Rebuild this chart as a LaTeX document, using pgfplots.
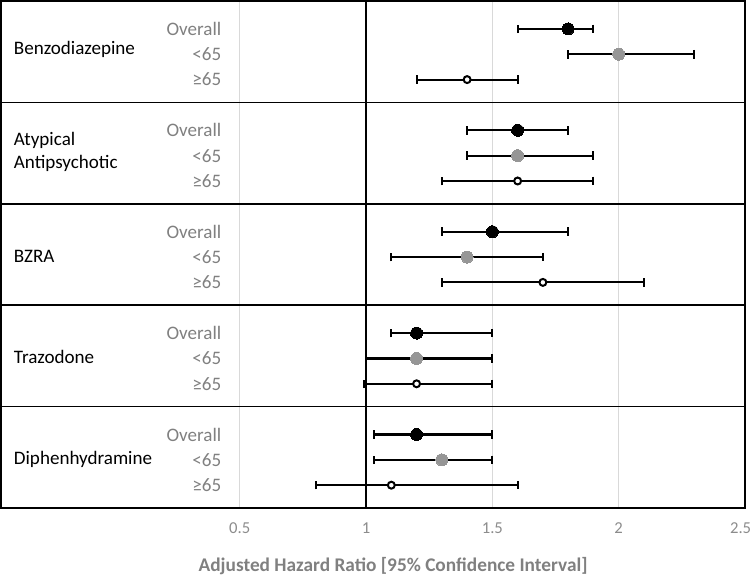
\documentclass[border=0pt]{standalone}
\usepackage{pgfplots}
\pgfplotsset{compat=1.18}
\usepackage{pgfplotstable}
\usepackage{fontspec}
\setmainfont{Carlito}
\usetikzlibrary{calc}
\definecolor{txtgray}{RGB}{128,128,128}
\definecolor{tickgray}{RGB}{140,140,140}
\definecolor{dotgray}{RGB}{150,150,150}
\definecolor{gridgray}{RGB}{217,217,217}

% hazard ratio, row position, lower CI, upper CI
\pgfplotstableread{
hr pos lo hi
1.8 1.1 1.6 1.9
1.6 5.1 1.4 1.8
1.5 9.1 1.3 1.8
1.2 13.1 1.1 1.5
1.2 17.1 1.03 1.5
}\tblOverall
\pgfplotstableread{
hr pos lo hi
2.0 2.1 1.8 2.3
1.6 6.1 1.4 1.9
1.4 10.1 1.1 1.7
1.2 14.1 1.0 1.5
1.3 18.1 1.03 1.5
}\tblYoung
\pgfplotstableread{
hr pos lo hi
1.4 3.1 1.2 1.6
1.6 7.1 1.3 1.9
1.7 11.1 1.3 2.1
1.2 15.1 0.99 1.5
1.1 19.1 0.8 1.6
}\tblOld

\pgfplotsset{
  ebar/.style={
    error bars/.cd, x dir=both, x explicit,
    error mark=|,
    error bar style={line width=1.6pt, black},
    error mark options={black, line width=1.5pt, mark size=3.2pt}
  }
}

\begin{document}
\begin{tikzpicture}
\begin{axis}[
  scale only axis,
  width=558pt, height=380.25pt,
  xmin=-0.445, xmax=2.5,
  ymin=0, ymax=20, y dir=reverse,
  clip=false,
  axis line style={line width=1.5pt, black},
  xtick={0.5,1,1.5,2,2.5},
  xticklabels={0.5,1,1.5,2,2.5\rule{6.6pt}{0pt}},
  ytick=\empty,
  major tick length=0pt,
  xmajorgrids,
  grid style={gridgray, line width=0.9pt},
  xticklabel style={anchor=center, yshift=-15pt, font=\fontsize{12.5}{14}\selectfont, text=tickgray},
]
% separators
\addplot[black, line width=1.1pt, forget plot] coordinates {(-0.445,4) (2.5,4)};
\addplot[black, line width=1.1pt, forget plot] coordinates {(-0.445,8) (2.5,8)};
\addplot[black, line width=1.1pt, forget plot] coordinates {(-0.445,12) (2.5,12)};
\addplot[black, line width=1.1pt, forget plot] coordinates {(-0.445,16) (2.5,16)};
% reference line at 1
\addplot[black, line width=1.6pt, forget plot] coordinates {(1,0) (1,20)};

\addplot[only marks, mark=*, mark size=4.5pt, mark options={fill=black, draw=black, line width=0pt}, ebar]
  table[x=hr, y=pos, x error plus expr=\thisrow{hi}-\thisrow{hr}, x error minus expr=\thisrow{hr}-\thisrow{lo}] {\tblOverall};
\addplot[only marks, mark=*, mark size=4.5pt, mark options={fill=dotgray, draw=dotgray, line width=0pt}, ebar]
  table[x=hr, y=pos, x error plus expr=\thisrow{hi}-\thisrow{hr}, x error minus expr=\thisrow{hr}-\thisrow{lo}] {\tblYoung};
\addplot[only marks, mark=*, mark size=2.6pt, mark options={fill=white, draw=black, line width=1.5pt}, ebar]
  table[x=hr, y=pos, x error plus expr=\thisrow{hi}-\thisrow{hr}, x error minus expr=\thisrow{hr}-\thisrow{lo}] {\tblOld};

% category labels
\begin{scope}[every node/.style={font=\fontsize{14.3}{17}\selectfont, inner sep=0pt, anchor=west, align=left}]
\node at (axis cs:-0.395,1.9) {Benzodiazepine};
\node at (axis cs:-0.395,5.96) {Atypical\\Antipsychotic};
\node at (axis cs:-0.395,10.06) {BZRA};
\node at (axis cs:-0.395,14.05) {Trazodone};
\node at (axis cs:-0.395,18.07) {Diphenhydramine};
\end{scope}
% subgroup labels
\begin{scope}[every node/.style={font=\fontsize{14.3}{17}\selectfont, inner sep=0pt, anchor=east, text=txtgray}]
\node at (axis cs:0.428,1.1) {Overall};
\node at (axis cs:0.428,2.1) {<65};
\node at (axis cs:0.428,3.1) {≥65};
\node at (axis cs:0.428,5.1) {Overall};
\node at (axis cs:0.428,6.1) {<65};
\node at (axis cs:0.428,7.1) {≥65};
\node at (axis cs:0.428,9.1) {Overall};
\node at (axis cs:0.428,10.1) {<65};
\node at (axis cs:0.428,11.1) {≥65};
\node at (axis cs:0.428,13.1) {Overall};
\node at (axis cs:0.428,14.1) {<65};
\node at (axis cs:0.428,15.1) {≥65};
\node at (axis cs:0.428,17.1) {Overall};
\node at (axis cs:0.428,18.1) {<65};
\node at (axis cs:0.428,19.1) {≥65};
\end{scope}
% axis title
\node[font=\bfseries\fontsize{14.5}{17}\selectfont, text=txtgray] at (axis cs:1.107,22.29) {Adjusted Hazard Ratio [95\% Confidence Interval]};

\coordinate (TL) at (axis cs:-0.445,0);
\coordinate (BR) at (axis cs:2.5,20);
\end{axis}
\pgfresetboundingbox
\path[use as bounding box] ($(TL)+(-0.75pt,0.75pt)$) rectangle ($(BR)+(5.25pt,-52.5pt)$);
\end{tikzpicture}
\end{document}
